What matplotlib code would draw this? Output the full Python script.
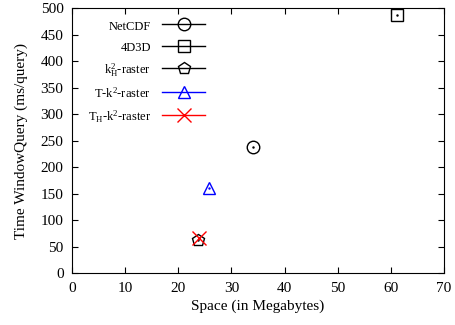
import matplotlib
matplotlib.use('Agg')
import matplotlib.pyplot as plt
from matplotlib.lines import Line2D

plt.rcParams['font.family'] = ['Liberation Serif', 'DejaVu Serif']
plt.rcParams['mathtext.fontset'] = 'custom'
plt.rcParams['mathtext.rm'] = 'Liberation Serif'
plt.rcParams['mathtext.it'] = 'Liberation Serif'

# datos
names = ['NetCDF', '4D3D', r'k$^2_{\mathrm{H}}$-raster', r'T-k$^2$-raster', r'T$_{\mathrm{H}}$-k$^2$-raster']
space = [34.0, 61.2, 23.8, 25.8, 24.0]
time_q = [238, 487, 62, 160, 66]
markers = ['o', 's', 'p', '^', 'x']
colors = ['black', 'black', 'black', 'blue', 'red']

fig, ax = plt.subplots(figsize=(4.55, 3.25), dpi=100)
fig.subplots_adjust(left=0.158, right=0.976, top=0.975, bottom=0.16)

handles = []
for name, x, y, m, c in zip(names, space, time_q, markers, colors):
    ms = 9 if m != 'x' else 10
    ax.plot([x], [y], linestyle='none', marker=m, markersize=ms,
            markerfacecolor='none', markeredgecolor=c, markeredgewidth=1.0)
    if m != 'x':
        ax.plot([x], [y], linestyle='none', marker='.', markersize=1.5, color=c)
    handles.append(Line2D([], [], color=c, lw=1.0, marker=m, markersize=ms,
                          markerfacecolor='none', markeredgecolor=c, label=name))

ax.set_xlim(0, 70)
ax.set_ylim(0, 500)
ax.set_xticks(range(0, 71, 10))
ax.set_yticks(range(0, 501, 50))
ax.tick_params(direction='in', top=True, right=True, length=4, labelsize=11)
ax.tick_params(axis='x', pad=6.5)
ax.tick_params(axis='y', pad=6)
ax.set_xlabel('Space (in Megabytes)', fontsize=11, labelpad=3.5)
ax.set_ylabel('Time WindowQuery (ms/query)', fontsize=11, labelpad=9)

ax.legend(handles=handles, loc='upper right', markerfirst=False, frameon=False,
          fontsize=9, handlelength=3.4, handleheight=1.4, labelspacing=0.58,
          handletextpad=0.9, borderpad=0, borderaxespad=0,
          bbox_to_anchor=(0.357, 0.962))

plt.savefig('out.png', dpi=100)
